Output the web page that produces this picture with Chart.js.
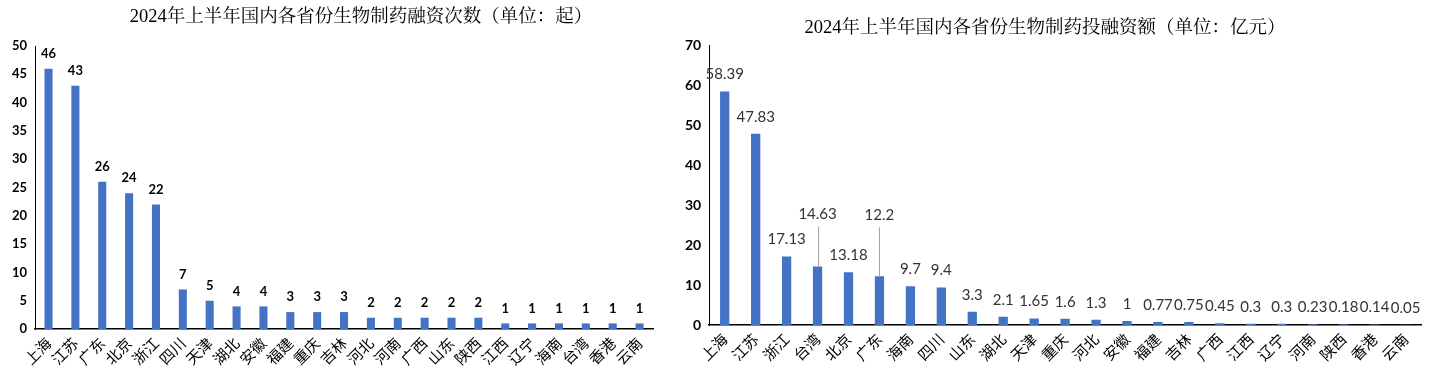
<!DOCTYPE html>
<html>
<head>
<meta charset="utf-8">
<script src="https://cdn.jsdelivr.net/npm/chart.js@4.4.1/dist/chart.umd.min.js"></script>
<style>
    html, body { margin: 0; padding: 0; background: #fff; }
    body { width: 1443px; height: 388px; position: relative; overflow: hidden; }
    .box { position: absolute; top: 0; height: 388px; }
    #countBox { left: 0; width: 722px; }
    #amountBox { left: 650px; width: 793px; }
</style>
</head>
<body>
<div class="box" id="countBox"><canvas id="countChart"></canvas></div>
<div class="box" id="amountBox"><canvas id="amountChart"></canvas></div>
<script>
// == 融资次数（单位：起） == //
const countProvinces = ["上海", "江苏", "广东", "北京", "浙江", "四川", "天津", "湖北", "安徽", "福建", "重庆", "吉林",
    "河北", "河南", "广西", "山东", "陕西", "江西", "辽宁", "海南", "台湾", "香港", "云南"];
const countValues = [46, 43, 26, 24, 22, 7, 5, 4, 4, 3, 3, 3, 2, 2, 2, 2, 2, 1, 1, 1, 1, 1, 1];
const countAxis = { min: 0, max: 50, step: 5 };

// == 投融资额（单位：亿元） == //
const amountProvinces = ["上海", "江苏", "浙江", "台湾", "北京", "广东", "海南", "四川", "山东", "湖北", "天津", "重庆",
    "河北", "安徽", "福建", "吉林", "广西", "江西", "辽宁", "河南", "陕西", "香港", "云南"];
const amountValues = [58.39, 47.83, 17.13, 14.63, 13.18, 12.2, 9.7, 9.4, 3.3, 2.1, 1.65, 1.6, 1.3, 1, 0.77, 0.75,
    0.45, 0.3, 0.3, 0.23, 0.18, 0.14, 0.05];
const amountAxis = { min: 0, max: 70, step: 10 };

const BAR_BLUE = "#4472C4";
const TITLE_FONT = "'Liberation Serif', 'Noto Serif CJK SC', 'Noto Sans CJK SC', serif";
const CJK_FONT = "'Noto Sans CJK SC', sans-serif";

// 🔹 标题（位置不跟随绘图区居中）
const chartHeading = {
    id: "chartHeading",
    afterDraw(chart, args, opts) {
        const ctx = chart.ctx;
        ctx.save();
        ctx.font = opts.font;
        ctx.fillStyle = "#000";
        ctx.textAlign = "center";
        ctx.textBaseline = "middle";
        ctx.fillText(opts.text, opts.x, opts.y);
        ctx.restore();
    }
};

// 🔹 数值标签（部分标签上移并加引导线）
const valueLabels = {
    id: "valueLabels",
    afterDatasetsDraw(chart, args, opts) {
        const meta = chart.getDatasetMeta(0);
        const values = chart.data.datasets[0].data;
        const ctx = chart.ctx;
        ctx.save();
        ctx.font = opts.font;
        ctx.fillStyle = opts.color;
        ctx.textAlign = "center";
        ctx.textBaseline = "middle";
        meta.data.forEach((bar, i) => {
            const extra = (opts.raise && opts.raise[i]) || 0;
            const y = bar.y - opts.gap - extra;
            ctx.fillText(String(values[i]), bar.x, y);
            if (extra) {
                ctx.strokeStyle = "#a6a6a6";
                ctx.lineWidth = 1;
                ctx.beginPath();
                ctx.moveTo(Math.round(bar.x) + 0.5, y + 12);
                ctx.lineTo(Math.round(bar.x) + 0.5, bar.y);
                ctx.stroke();
            }
        });
        ctx.restore();
    }
};

function makeChart(id, labels, values, axis, cfg) {
    return new Chart(document.getElementById(id), {
        type: "bar",
        data: {
            labels: labels,
            datasets: [{
                data: values,
                backgroundColor: BAR_BLUE,
                barPercentage: 0.3,
                categoryPercentage: 1
            }]
        },
        options: {
            responsive: true,
            maintainAspectRatio: false,
            animation: false,
            layout: { padding: cfg.padding },
            plugins: {
                legend: { display: false },
                tooltip: { enabled: false },
                chartHeading: cfg.heading,
                valueLabels: cfg.labels
            },
            scales: {
                x: {
                    grid: { display: false, drawTicks: false },
                    border: { display: true, color: "#000", width: 1.5 },
                    ticks: {
                        autoSkip: false,
                        minRotation: 45,
                        maxRotation: 45,
                        padding: 5,
                        color: "#000",
                        font: { family: CJK_FONT, size: 15 }
                    }
                },
                y: {
                    min: axis.min,
                    max: axis.max,
                    grid: { display: false, drawTicks: false },
                    border: { display: true, color: "#000", width: 1 },
                    ticks: {
                        stepSize: axis.step,
                        padding: 8,
                        color: "#000",
                        font: { family: "Lato", size: cfg.yFont, weight: "bold" }
                    }
                }
            }
        },
        plugins: [chartHeading, valueLabels]
    });
}

makeChart("countChart", countProvinces, countValues, countAxis, {
    heading: { text: "2024年上半年国内各省份生物制药融资次数（单位：起）", x: 361, y: 17, font: "18.5px " + TITLE_FONT },
    padding: { left: 4, right: 69, top: 46, bottom: 15 },
    yFont: 13,
    labels: { font: "bold 13px Lato", color: "#000", gap: 15 }
});

makeChart("amountChart", amountProvinces, amountValues, amountAxis, {
    heading: { text: "2024年上半年国内各省份生物制药投融资额（单位：亿元）", x: 395, y: 28, font: "18.5px " + TITLE_FONT },
    padding: { left: 27, right: 22, top: 45, bottom: 19 },
    yFont: 14,
    labels: { font: "15px Lato", color: "#333", gap: 17, raise: { 3: 35, 5: 44 } }
});
</script>
</body>
</html>
